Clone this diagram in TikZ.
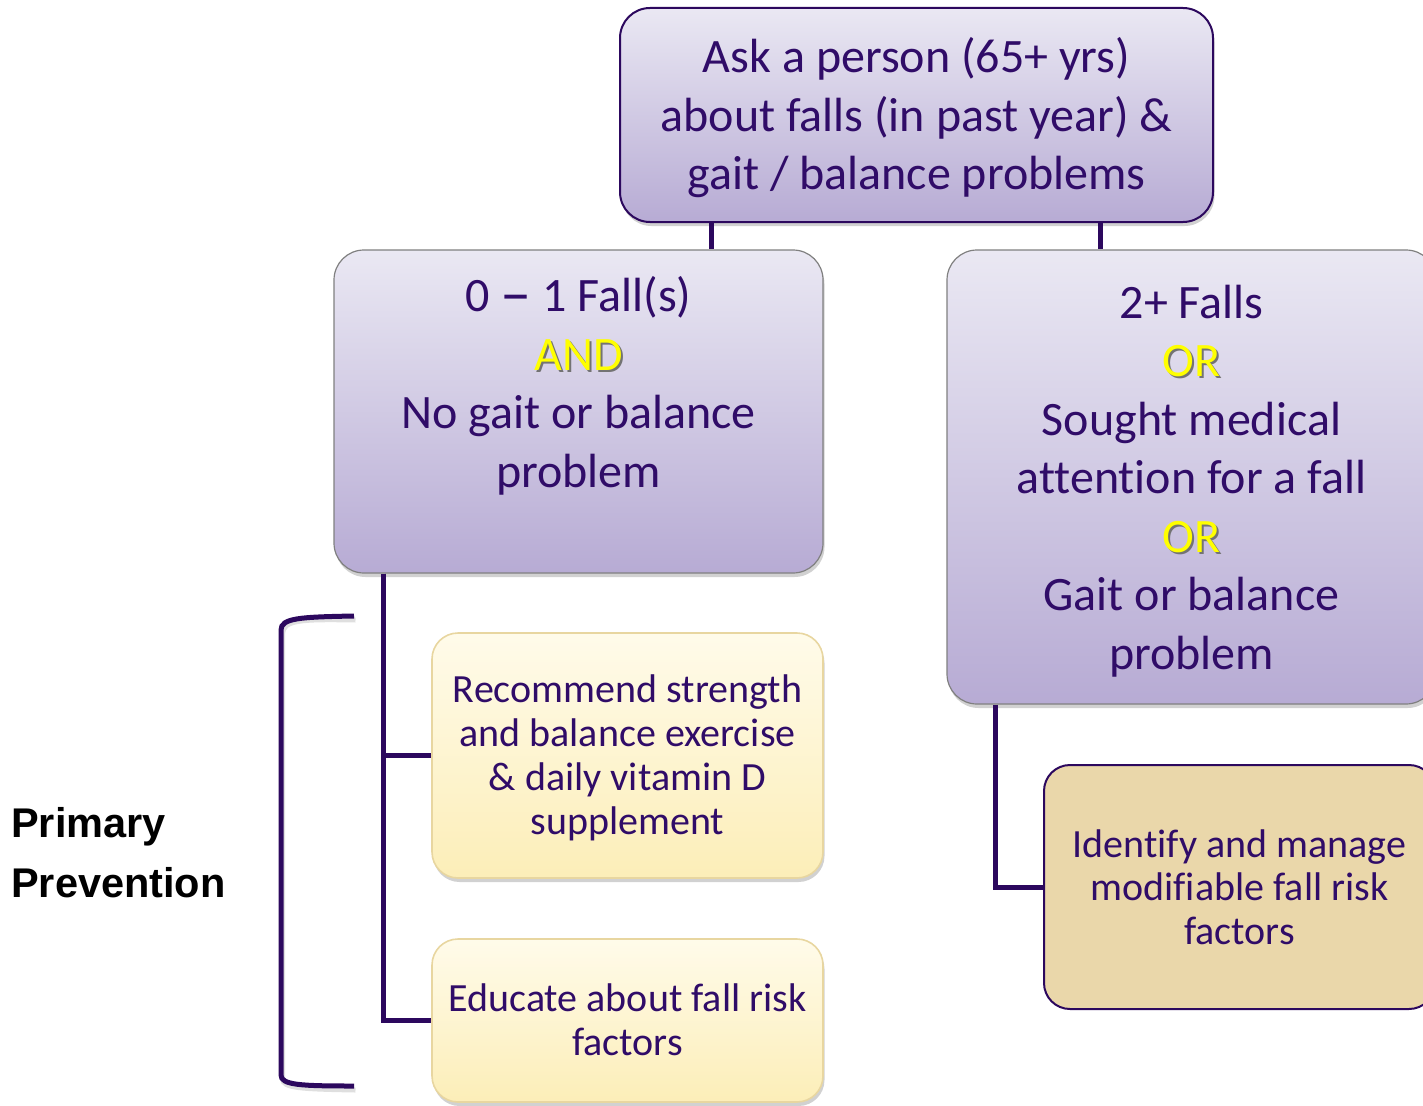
\documentclass[tikz,border=0pt]{standalone}
\usepackage{fontspec}
\usepackage{graphicx}
\setmainfont{Carlito}[Ligatures={NoCommon}]
\newfontfamily\arialfont{Liberation Sans}
\usetikzlibrary{shadows,calc}
\definecolor{ink}{RGB}{48,12,104}
\definecolor{lineclr}{RGB}{44,8,94}
\definecolor{ptop}{RGB}{234,232,243}
\definecolor{pbot}{RGB}{183,171,212}
\definecolor{ytop}{RGB}{255,251,234}
\definecolor{ybot}{RGB}{252,238,184}
\definecolor{yborder}{RGB}{232,214,160}
\definecolor{tanfill}{RGB}{234,215,170}
\definecolor{hiyellow}{RGB}{255,255,0}
\newcommand\hilite[1]{\makebox[0pt][l]{\hspace{2pt}\raisebox{-2pt}{\textcolor{black!55}{#1}}}\textcolor{hiyellow}{#1}}
\newcommand\widedash{\raisebox{-3pt}{\scalebox{1.3}[1.3]{–}}}
\begin{document}
\begin{tikzpicture}[x=1pt,y=-1pt,
  softshadow/.style={drop shadow={shadow xshift=1.5pt, shadow yshift=-4pt, opacity=0.3, fill=black!60}},
  purplebox/.style={draw=black!50, line width=1.2pt, rounded corners=30pt, top color=ptop, bottom color=pbot, softshadow, inner sep=0pt},
  topbox/.style={purplebox, draw=lineclr, line width=2pt},
  yellowbox/.style={draw=yborder, line width=1.6pt, rounded corners=26pt, top color=ytop, bottom color=ybot, softshadow, inner sep=0pt},
  tanbox/.style={draw=lineclr, line width=2pt, rounded corners=26pt, fill=tanfill, inner sep=0pt},
  bigtxt/.style={text=ink, align=center, font=\fontsize{48}{58.5}\selectfont, inner sep=0pt},
  smalltxt/.style={text=ink, align=center, font=\fontsize{40}{44}\selectfont, inner sep=0pt},
  conn/.style={draw=lineclr, line width=5pt}
]
\useasboundingbox (0,0) rectangle (1423,1105);

% boxes
\node[topbox, minimum width=593, minimum height=214] (top) at (916.5,115) {};
\node[bigtxt] (toptxt) at (916.5,118) {Ask a person (65+ yrs)\\about falls (in past year) \&\\gait / balance problems};

\node[purplebox, minimum width=489, minimum height=323] (left) at (578.5,411.5) {};
\node[bigtxt] (lefttxt) at (578.5,386) {0 \widedash{} 1 Fall(s)\\\hilite{AND}\\No gait or balance\\problem};

\node[purplebox, minimum width=489, minimum height=454] (right) at (1191.5,477) {};
\node[bigtxt] (righttxt) at (1191.5,481) {2+ Falls\\\hilite{OR}\\Sought medical\\attention for a fall\\\hilite{OR}\\Gait or balance\\problem};

\node[yellowbox, minimum width=391, minimum height=245] (y1) at (627.5,755.5) {};
\node[smalltxt] (y1txt) at (627.5,757.5) {Recommend strength\\and balance exercise\\\& daily vitamin D\\supplement};
\node[yellowbox, minimum width=391, minimum height=163] (y2) at (627.5,1020.5) {};
\node[smalltxt] (y2txt) at (627.5,1020) {Educate about fall risk\\factors};

\node[tanbox, minimum width=391, minimum height=244] (tan) at (1239.5,887) {};
\node[smalltxt, font=\fontsize{40}{43.5}\selectfont] (tantxt) at (1239.5,887) {Identify and manage\\modifiable fall risk\\factors};

\node[anchor=west, inner sep=0pt, align=left, font=\arialfont\bfseries\fontsize{41.5}{60}\selectfont] (pp) at (11,853) {Primary\\Prevention};

% connector columns
\coordinate (c1) at (711,0);
\coordinate (c2) at (1100,0);
\coordinate (c3) at (383,0);
\coordinate (c4) at (995,0);

\draw[conn] (top.south -| c1) -- (left.north -| c1);
\draw[conn] (top.south -| c2) -- (right.north -| c2);
\draw[conn] (left.south -| c3) |- (y1.west);
\draw[conn] (left.south -| c3) |- (y2.west);
\draw[conn] (right.south -| c4) |- (tan.west);

% bracket
\coordinate (bt) at (354,616);
\coordinate (bb) at (354,1086);
\draw[draw=black!25, line width=5pt, opacity=0.5] ($(bt)+(1.5,4)$) .. controls (300,619) and (283,620) .. (282.5,634) -- (282.5,1079) .. controls (283,1088) and (300,1089) .. ($(bb)+(1.5,4)$);
\draw[conn] (bt) .. controls (300,617) and (281,618) .. (281,630) -- (281,1075) .. controls (281,1085) and (300,1086) .. (bb);
\end{tikzpicture}
\end{document}
